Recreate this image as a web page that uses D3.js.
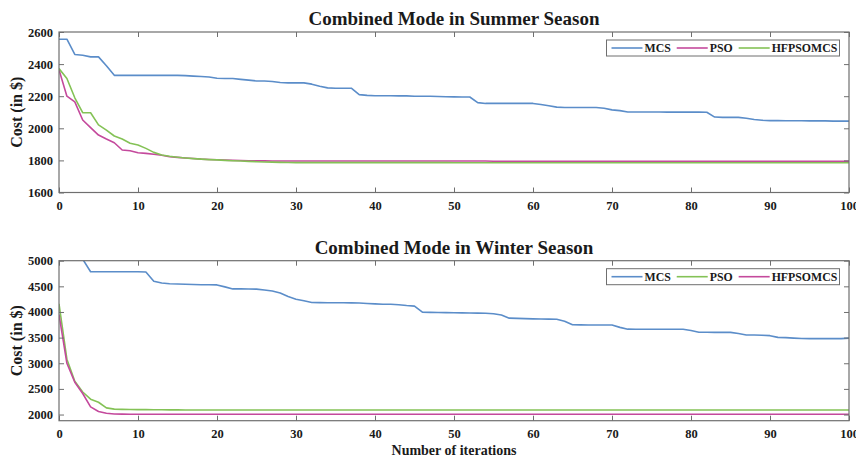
<!DOCTYPE html>
<html>
<head>
<meta charset="utf-8">
<script src="https://cdn.jsdelivr.net/npm/d3@7"></script>
<style>
  html, body { margin: 0; padding: 0; background: #fff; }
  svg { display: block; }
  text { font-family: "Liberation Serif", "Times New Roman", Times, serif; font-weight: bold; fill: #1a1a1a; }
</style>
</head>
<body>
<svg id="chart" width="856" height="459"></svg>
<script>
// Convergence of the cost (in $) over 100 iterations, iteration 0..100

const seriesNames = ["MCS", "PSO", "HFPSOMCS"];
const xTicks = [0, 10, 20, 30, 40, 50, 60, 70, 80, 90, 100];
const summerTicks = [1600, 1800, 2000, 2200, 2400, 2600];
const winterTicks = [2000, 2500, 3000, 3500, 4000, 4500, 5000];

// Summer season
const summerMCS = [
  2555, 2555, 2460, 2455, 2445, 2445, 2390, 2330, 2330, 2330,
  2330, 2330, 2330, 2330, 2330, 2330, 2328, 2325, 2323, 2320,
  2312, 2310, 2310, 2305, 2300, 2295, 2295, 2292, 2285, 2283,
  2283, 2283, 2275, 2262, 2252, 2250, 2250, 2250, 2210, 2205,
  2203, 2203, 2203, 2202, 2202, 2200, 2200, 2200, 2198, 2197,
  2196, 2195, 2195, 2160, 2155, 2155, 2155, 2155, 2155, 2155,
  2155, 2148, 2140, 2132, 2130, 2130, 2130, 2130, 2130, 2125,
  2115, 2110, 2102, 2102, 2102, 2102, 2102, 2101, 2101, 2101,
  2101, 2101, 2100, 2070, 2068, 2068, 2068, 2063, 2055, 2050,
  2048, 2048, 2047, 2047, 2047, 2046, 2046, 2046, 2045, 2045,
  2045
];
const summerPSO = [
  2365, 2200, 2165, 2052, 2004, 1958, 1933, 1910, 1865, 1860,
  1848, 1844, 1838, 1832, 1823, 1819, 1815, 1812, 1808, 1806,
  1804, 1802, 1800, 1799, 1798, 1797, 1797, 1796, 1796, 1796,
  1796, 1796, 1796, 1796, 1796, 1796, 1796, 1796, 1796, 1796,
  1796, 1796, 1796, 1796, 1796, 1796, 1796, 1796, 1796, 1796,
  1796, 1796, 1796, 1796, 1796, 1795, 1795, 1795, 1795, 1795,
  1795, 1795, 1795, 1795, 1795, 1795, 1795, 1795, 1795, 1795,
  1795, 1795, 1795, 1795, 1795, 1795, 1795, 1795, 1795, 1795,
  1795, 1795, 1795, 1795, 1795, 1795, 1795, 1795, 1795, 1795,
  1795, 1795, 1795, 1795, 1795, 1795, 1795, 1795, 1795, 1795,
  1795
];
const summerHFPSOMCS = [
  2372, 2310, 2190, 2097, 2097, 2021, 1989, 1952, 1933, 1907,
  1896, 1875, 1850, 1834, 1826, 1820, 1815, 1811, 1808, 1805,
  1803, 1800, 1798, 1796, 1794, 1792, 1790, 1789, 1788, 1787,
  1786, 1786, 1786, 1786, 1786, 1786, 1786, 1786, 1786, 1786,
  1786, 1786, 1786, 1786, 1786, 1786, 1786, 1786, 1786, 1786,
  1785, 1785, 1785, 1785, 1785, 1785, 1785, 1785, 1785, 1785,
  1785, 1785, 1785, 1785, 1785, 1785, 1785, 1785, 1785, 1785,
  1785, 1785, 1785, 1785, 1785, 1785, 1785, 1785, 1785, 1785,
  1785, 1785, 1785, 1785, 1785, 1785, 1785, 1785, 1785, 1785,
  1785, 1785, 1785, 1785, 1785, 1785, 1785, 1785, 1785, 1785,
  1785
];

// Winter season
const winterMCS = [
  5400, 5250, 5120, 5030, 4785, 4785, 4785, 4785, 4785, 4785,
  4785, 4780, 4600, 4565, 4550, 4545, 4540, 4535, 4532, 4530,
  4528, 4490, 4450, 4450, 4448, 4445, 4430, 4410, 4370, 4300,
  4250, 4220, 4185, 4182, 4180, 4180, 4180, 4178, 4175, 4165,
  4158, 4152, 4150, 4140, 4125, 4115, 3995, 3993, 3990, 3988,
  3985, 3983, 3980, 3978, 3975, 3965, 3940, 3880, 3875, 3870,
  3865, 3862, 3860, 3858, 3820, 3750, 3748, 3747, 3746, 3746,
  3745, 3700, 3665, 3664, 3663, 3663, 3662, 3662, 3662, 3662,
  3640, 3605, 3604, 3603, 3603, 3603, 3580, 3552, 3550, 3545,
  3538, 3505, 3500, 3490, 3482, 3480, 3480, 3480, 3480, 3480,
  3490
];
const winterPSO = [
  4160, 3080, 2650, 2440, 2300, 2240, 2130, 2105, 2100, 2098,
  2096, 2095, 2094, 2093, 2092, 2091, 2090, 2090, 2090, 2090,
  2090, 2090, 2090, 2090, 2090, 2090, 2090, 2090, 2090, 2090,
  2090, 2090, 2090, 2090, 2090, 2090, 2090, 2090, 2090, 2090,
  2090, 2090, 2090, 2090, 2090, 2090, 2090, 2090, 2090, 2090,
  2090, 2090, 2090, 2090, 2090, 2090, 2090, 2090, 2090, 2090,
  2090, 2090, 2090, 2090, 2090, 2090, 2090, 2090, 2090, 2090,
  2090, 2090, 2090, 2090, 2090, 2090, 2090, 2090, 2090, 2090,
  2090, 2090, 2090, 2090, 2090, 2090, 2090, 2090, 2090, 2090,
  2090, 2090, 2090, 2090, 2090, 2090, 2090, 2090, 2090, 2090,
  2090
];
const winterHFPSOMCS = [
  3950, 3000, 2630, 2410, 2150, 2060, 2025, 2012, 2008, 2006,
  2005, 2005, 2005, 2005, 2005, 2005, 2005, 2005, 2005, 2005,
  2005, 2005, 2005, 2005, 2005, 2005, 2005, 2005, 2005, 2005,
  2005, 2005, 2005, 2005, 2005, 2005, 2005, 2005, 2005, 2005,
  2005, 2005, 2005, 2005, 2005, 2005, 2005, 2005, 2005, 2005,
  2005, 2005, 2005, 2005, 2005, 2005, 2005, 2005, 2005, 2005,
  2005, 2005, 2005, 2005, 2005, 2005, 2005, 2005, 2005, 2005,
  2005, 2005, 2005, 2005, 2005, 2005, 2005, 2005, 2005, 2005,
  2005, 2005, 2005, 2005, 2005, 2005, 2005, 2005, 2005, 2005,
  2005, 2005, 2005, 2005, 2005, 2005, 2005, 2005, 2005, 2005,
  2005
];

const BLUE = "#5b8dc9", MAGENTA = "#c4499c", GREEN = "#84c256";
const AXIS = "#6f6f6f";

const svg = d3.select("#chart");
const left = 59, right = 849;

const x = d3.scaleLinear().domain([0, 100]).range([left, right]);

function drawPanel(p, idx) {
  const y = d3.scaleLinear().domain(p.domain).range([p.bottom, p.top]);
  const g = svg.append("g");

  const clipId = "clip" + idx;
  svg.append("clipPath").attr("id", clipId)
    .append("rect").attr("x", left).attr("y", p.top)
    .attr("width", right - left).attr("height", p.bottom - p.top);

  // Series
  const line = d3.line().x((d, i) => x(i)).y(d => y(d));
  const lines = g.append("g").attr("clip-path", `url(#${clipId})`);
  p.series.forEach(s => {
    lines.append("path").datum(s.values)
      .attr("d", line).attr("fill", "none")
      .attr("stroke", s.color).attr("stroke-width", 1.6)
      .attr("stroke-linejoin", "round");
  });

  // Axes with inward ticks on all four sides
  const tickLen = 5;
  const ax = (sel) => { sel.select(".domain").remove();
    sel.selectAll(".tick line").attr("stroke", AXIS).attr("stroke-width", 1);
    sel.selectAll(".tick text").attr("fill", "#1a1a1a")
      .style("font-family", "'Liberation Serif','Times New Roman',serif")
      .style("font-weight", "bold").style("font-size", "12.5px"); };

  g.append("g").attr("transform", `translate(0,${p.bottom})`)
    .call(d3.axisBottom(x).tickValues(xTicks).tickSize(-tickLen).tickPadding(8.5).tickFormat(d3.format("d")))
    .call(ax);
  g.append("g").attr("transform", `translate(0,${p.top})`)
    .call(d3.axisTop(x).tickValues(xTicks).tickSize(-tickLen).tickFormat(""))
    .call(ax);
  g.append("g").attr("transform", `translate(${left},0)`)
    .call(d3.axisLeft(y).tickValues(p.ticks).tickSize(-tickLen).tickPadding(6).tickFormat(d3.format("d")))
    .call(ax);
  g.append("g").attr("transform", `translate(${right},0)`)
    .call(d3.axisRight(y).tickValues(p.ticks).tickSize(-tickLen).tickFormat(""))
    .call(ax);

  g.append("rect").attr("x", left).attr("y", p.top)
    .attr("width", right - left).attr("height", p.bottom - p.top)
    .attr("fill", "none").attr("stroke", AXIS).attr("stroke-width", 1.2);

  // Title
  g.append("text").attr("x", (left + right) / 2).attr("y", p.top - 7)
    .attr("text-anchor", "middle").style("font-size", "19px").text(p.title);

  // Y label
  g.append("text")
    .attr("transform", `translate(22,${(p.top + p.bottom) / 2}) rotate(-90)`)
    .attr("text-anchor", "middle").style("font-size", "16px").text("Cost (in $)");

  // Legend
  const lx = 606.5, ly = p.top + 8, lw = 233, lh = 16;
  const leg = g.append("g");
  leg.append("rect").attr("x", lx).attr("y", ly).attr("width", lw).attr("height", lh)
    .attr("fill", "#fff").attr("stroke", AXIS).attr("stroke-width", 1);
  let cx = lx + 5;
  p.series.forEach(s => {
    leg.append("line").attr("x1", cx).attr("x2", cx + 31)
      .attr("y1", ly + lh / 2).attr("y2", ly + lh / 2)
      .attr("stroke", s.color).attr("stroke-width", 1.6);
    cx += 33;
    const t = leg.append("text").attr("x", cx).attr("y", ly + lh / 2)
      .attr("dy", "0.35em").style("font-size", "11.8px").text(s.name);
    cx += t.node().getComputedTextLength() + 6;
  });
}

drawPanel({
  title: "Combined Mode in Summer Season",
  top: 32, bottom: 192.5, domain: [1600, 2600], ticks: summerTicks,
  series: [
    { name: seriesNames[0], values: summerMCS, color: BLUE },
    { name: seriesNames[1], values: summerPSO, color: MAGENTA },
    { name: seriesNames[2], values: summerHFPSOMCS, color: GREEN }
  ]
}, 0);

drawPanel({
  title: "Combined Mode in Winter Season",
  top: 260.7, bottom: 420.7, domain: [1880, 5000], ticks: winterTicks,
  series: [
    { name: seriesNames[0], values: winterMCS, color: BLUE },
    { name: seriesNames[1], values: winterPSO, color: GREEN },
    { name: seriesNames[2], values: winterHFPSOMCS, color: MAGENTA }
  ]
}, 1);

svg.append("text").attr("x", (left + right) / 2).attr("y", 455)
  .attr("text-anchor", "middle").style("font-size", "14px").text("Number of iterations");
</script>
</body>
</html>
